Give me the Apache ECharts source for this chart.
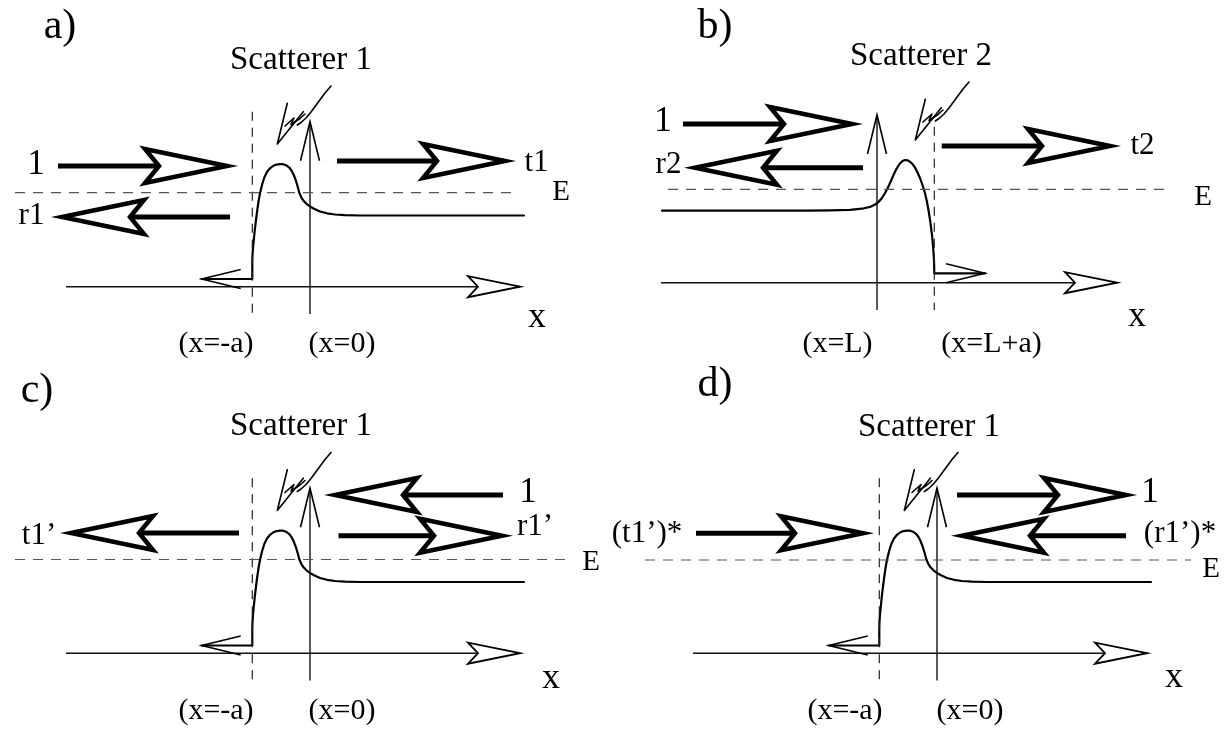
<!DOCTYPE html>
<html><head><meta charset="utf-8">
<script src="https://cdn.jsdelivr.net/npm/echarts@6/dist/echarts.min.js"></script>
<style>html,body{margin:0;padding:0;background:#fff}#c{width:1227px;height:734px}</style>
</head><body><div id="c"></div>
<script>
// ---------------- DATA (diagram coordinates, y grows downward) ----------------
// Potential profile of scatterer 1 (drawn in panel a frame; panels c, d reuse it)
const potential1 = [[201.7,279],[252.3,279],[252.3,262],[252.5,255],[253,248],[253.8,240],[254.8,230],[256,220],[257.3,210],[258.6,201],[260,193.3],[262,185],[264.3,177.5],[267,172],[270,168.3],[273,166],[276.5,164.6],[280,164.1],[283,164.2],[286,165.2],[289,167.3],[291.5,170.5],[293.5,174.5],[295.5,179.5],[297.5,186],[299.3,192.7],[301.3,197.3],[303.5,200.8],[306.5,203.8],[310,206.5],[314,208.8],[320,211.5],[327,213.3],[335,214.5],[345,215.2],[360,215.5],[524,215.5]];
// Potential profile of scatterer 2 (panel b)
const potential2 = [[662,210.7],[807,210.7],[830,210.4],[850,209.8],[862,208.7],[870,206.9],[875,204.6],[878.5,202],[881.5,198.5],[884.5,194],[887.5,188.5],[890.5,182],[893.5,175],[896.5,168.8],[899.5,164],[902.5,161],[905,160],[907.5,160.3],[910,161.7],[912.5,164],[915,167.5],[917.5,172.5],[920,178],[922.5,185],[925,193.3],[927,202],[928.8,212],[930.5,223],[932,235],[933.2,248],[934,260],[934.3,273.3],[985,273.3]];
// "Scatterer" pointer (panel a frame)
const pointerLine = [[331,86],[325,93],[318,102.5],[311,112],[306,118],[301,122.5],[297.3,125]];
const pointerHead = [[287.3,103.3],[277.3,144],[303.3,111.7]];
const pointerSquiggle = [[285,126],[294,118],[291,124.5],[300,118.5],[305,114]];
// Panel translations of the shared scatterer-1 drawing (a, c, d) and of the pointer in b
const shiftA = [0,0], shiftC = [0,366.5], shiftD = [627,366.5], shiftPointerB = [638,-4];
// Axes: [xStart, xEnd, y] for x axes; [x, yTop, yBottom] for vertical axis / boundary
const xAxisA = [66,520,286.7], xAxisB = [661,1117,282.7];
const vAxisA = [310,121.7,314], vAxisB = [877,115,310];
const boundaryA = [252.3,111.7,314], boundaryB = [934.3,126.7,310];
// Energy level E: [xStart, xEnd, y]
const energyLines = [[15,517,192.7],[668,1172,189.3],[15,565,559.5],[645,1191,560]];
// Thick wave arrows: [tailX, tipX, y]
const arrowsA = [[58,227,166],[337,505,161],[230,62,217]];
const arrowsB = [[683,852,124],[863,695,167.7],[941.7,1110,146]];
const arrowsC = [[503,335,495],[338.5,502,535.7],[239,71,533]];
const arrowsD = [[957,1126,495],[1126,962,535.7],[696,863,533.3]];
// Labels per panel
const textsA = ['a)','Scatterer 1','1','t1','r1','E','x','(x=-a)','(x=0)'];
const anchorsA = [[60,27],[301,60],[36,164.5],[536.5,162.5],[31.5,216],[561,192.5],[537,318],[216,344],[342,344]];
const textsB = ['b)','Scatterer 2','1','r2','t2','E','x','(x=L)','(x=L+a)'];
const anchorsB = [[715,27],[921,56],[663,122],[668.5,165],[1142.5,146],[1203,197.5],[1137,317],[837.5,344],[991.5,344]];
const textsC = ['c)','Scatterer 1','1','r1\u2019','t1\u2019','E','x','(x=-a)','(x=0)'];
const anchorsC = [[37,391],[301,426.5],[528,493],[535,527],[39,536],[591,562],[551,679],[216,711],[342,711]];
const textsD = ['d)','Scatterer 1','1','(r1\u2019)*','(t1\u2019)*','E','x','(x=-a)','(x=0)'];
const anchorsD = [[715,385],[929,427],[1150,493],[1180,534],[647,534],[1211,569],[1174,678],[845,711],[970,711]];
const labelRoles = ['panel','title','beam','amp','amp','E','x','pos','pos'];

// ---------------- STYLE ----------------
const FONT = '"Liberation Serif","Times New Roman",serif';
const FONT_SIZES = {panel:42, title:33, beam:35, amp:31, E:29, x:36, pos:30};
const BIG = {len:82, notch:14, half:17, shaft:5, outline:4.5};
const DART = {len:52, notch:10, half:10.5, lw:1.8};
const VHEAD = {len:39, half:9.5, lw:1.6};

// ---------------- BUILD ----------------
const shift = (pts, o) => pts.map(p => [p[0]+o[0], p[1]+o[1]]);
const series = [];
function addLine(pts, style) {
  series.push({type:'line', data:pts, showSymbol:false, symbol:'none', smooth:false,
    silent:true, animation:false, z:2, lineStyle:Object.assign({color:'#000', width:1.5, join:'round', cap:'round'}, style)});
}
const CURVE = {width:2.2, color:'#000'};
const THIN = {width:1.4, color:'#111', cap:'butt'};
const DASHV = {width:1.2, color:'#222', type:[9,7], cap:'butt'};
const DASHE = {width:1.2, color:'#555', type:[10,8], cap:'butt'};
const PTR = {width:1.6, color:'#000'};

const vHeads = [], darts = [];
[shiftA, shiftC, shiftD].forEach(o => {
  addLine(shift(potential1,o), CURVE);
  addLine([[vAxisA[0]+o[0], vAxisA[1]+o[1]], [vAxisA[0]+o[0], vAxisA[2]+o[1]]], THIN);
  addLine([[boundaryA[0]+o[0], boundaryA[1]+o[1]], [boundaryA[0]+o[0], boundaryA[2]+o[1]]], DASHV);
  addLine([[xAxisA[0]+o[0], xAxisA[2]+o[1]], [xAxisA[1]+o[0], xAxisA[2]+o[1]]], THIN);
  addLine(shift(pointerLine,o), PTR);
  addLine(shift(pointerHead,o), PTR);
  addLine(shift(pointerSquiggle,o), PTR);
  vHeads.push([vAxisA[0]+o[0], vAxisA[1]+o[1], 0]);
  vHeads.push([potential1[0][0]+o[0], potential1[0][1]+o[1], 1]);
  darts.push([xAxisA[1]+o[0], xAxisA[2]+o[1]]);
});
// panel b
addLine(potential2, CURVE);
addLine([[vAxisB[0], vAxisB[1]], [vAxisB[0], vAxisB[2]]], THIN);
addLine([[boundaryB[0], boundaryB[1]], [boundaryB[0], boundaryB[2]]], DASHV);
addLine([[xAxisB[0], xAxisB[2]], [xAxisB[1], xAxisB[2]]], THIN);
addLine(shift(pointerLine,shiftPointerB), PTR);
addLine(shift(pointerHead,shiftPointerB), PTR);
addLine(shift(pointerSquiggle,shiftPointerB), PTR);
vHeads.push([vAxisB[0], vAxisB[1], 0]);
vHeads.push([potential2[potential2.length-1][0], potential2[potential2.length-1][1], 2]);
darts.push([xAxisB[1], xAxisB[2]]);
// energy lines
energyLines.forEach(e => addLine([[e[0], e[2]], [e[1], e[2]]], DASHE));

// thick arrows
const bigArrows = [].concat(arrowsA, arrowsB, arrowsC, arrowsD);
series.push({type:'custom', data:bigArrows, silent:true, animation:false, clip:false, z:5,
  renderItem:(params, api) => {
    const t = api.coord([api.value(0), api.value(2)]);
    const p = api.coord([api.value(1), api.value(2)]);
    const d = Math.sign(p[0]-t[0]);
    const back = p[0]-d*BIG.len, notch = p[0]-d*(BIG.len-BIG.notch);
    return {type:'group', children:[
      {type:'line', shape:{x1:t[0], y1:t[1], x2:notch, y2:p[1]}, style:{stroke:'#000', lineWidth:BIG.shaft}},
      {type:'polygon', shape:{points:[[p[0],p[1]],[back,p[1]-BIG.half],[notch,p[1]],[back,p[1]+BIG.half]]},
        style:{fill:'#fff', stroke:'#000', lineWidth:BIG.outline, lineJoin:'miter', miterLimit:10}}
    ]};
  }});
// dart heads on x axes
series.push({type:'custom', data:darts, silent:true, animation:false, clip:false, z:5,
  renderItem:(params, api) => {
    const p = api.coord([api.value(0), api.value(1)]);
    return {type:'polygon', shape:{points:[[p[0],p[1]],[p[0]-DART.len,p[1]-DART.half],[p[0]-DART.len+DART.notch,p[1]],[p[0]-DART.len,p[1]+DART.half]]},
      style:{fill:'#fff', stroke:'#000', lineWidth:DART.lw, lineJoin:'miter', miterLimit:10}};
  }});
// open V heads: dir 0 up, 1 left, 2 right
series.push({type:'custom', data:vHeads, silent:true, animation:false, clip:false, z:5,
  renderItem:(params, api) => {
    const p = api.coord([api.value(0), api.value(1)]);
    const dir = api.value(2);
    let a, b;
    if (dir === 0) { a = [p[0]-VHEAD.half, p[1]+VHEAD.len]; b = [p[0]+VHEAD.half, p[1]+VHEAD.len]; }
    else if (dir === 1) { a = [p[0]+VHEAD.len, p[1]-VHEAD.half]; b = [p[0]+VHEAD.len, p[1]+VHEAD.half]; }
    else { a = [p[0]-VHEAD.len, p[1]-VHEAD.half]; b = [p[0]-VHEAD.len, p[1]+VHEAD.half]; }
    return {type:'polyline', shape:{points:[a,p,b]}, style:{stroke:'#000', fill:null, lineWidth:VHEAD.lw}};
  }});
// labels
const allTexts = [].concat(textsA, textsB, textsC, textsD);
const allAnchors = [].concat(anchorsA, anchorsB, anchorsC, anchorsD);
const allRoles = [].concat(labelRoles, labelRoles, labelRoles, labelRoles);
series.push({type:'custom', data:allAnchors.map((a,i) => [a[0], a[1], i]), silent:true, animation:false, clip:false, z:6,
  renderItem:(params, api) => {
    const i = api.value(2);
    const p = api.coord([api.value(0), api.value(1)]);
    return {type:'text', x:p[0], y:p[1], style:{text:allTexts[i], fontFamily:FONT, fontSize:FONT_SIZES[allRoles[i]],
      fill:'#000', align:'center', verticalAlign:'middle'}};
  }});

const chart = echarts.init(document.getElementById('c'), null, {renderer:'canvas', width:1227, height:734});
chart.setOption({
  animation:false,
  backgroundColor:'#fff',
  grid:{left:0, right:0, top:0, bottom:0},
  xAxis:{type:'value', min:0, max:1227, show:false},
  yAxis:{type:'value', min:0, max:734, inverse:true, show:false},
  series:series
});
</script></body></html>
